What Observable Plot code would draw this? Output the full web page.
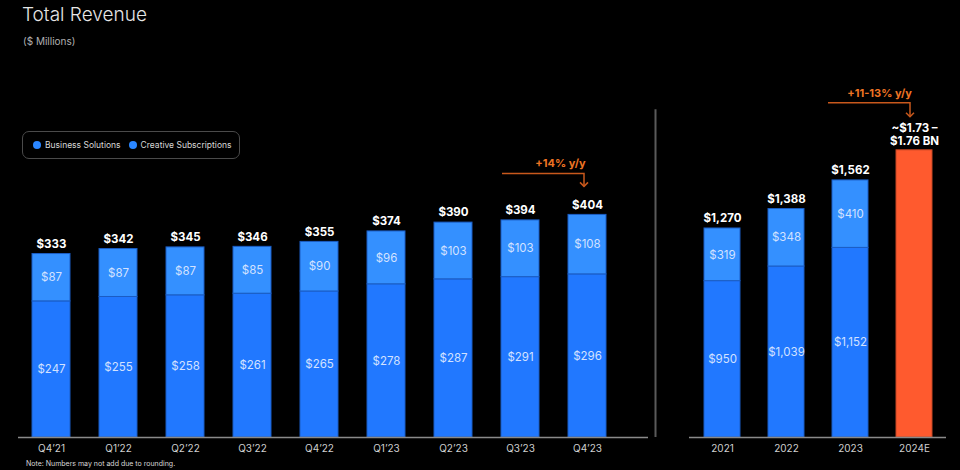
<!DOCTYPE html>
<html><head><meta charset="utf-8">
<script src="https://cdn.jsdelivr.net/npm/d3@7"></script>
<script src="https://cdn.jsdelivr.net/npm/@observablehq/plot@0.6"></script>
<style>
html,body{margin:0;padding:0;background:#000;}
#wrap{position:relative;width:960px;height:470px;background:#000;overflow:hidden;font-family:Inter,"Open Sans",sans-serif;}
#wrap svg{position:absolute;left:0;top:0;}
.t{position:absolute;white-space:nowrap;}
#legend{position:absolute;left:22px;top:131px;width:218px;height:28px;box-sizing:border-box;border:1px solid #4a4a4a;border-radius:7px;display:flex;align-items:center;padding-left:10px;font-size:8.5px;color:#d8d8d8;white-space:nowrap;}
#legend .it{display:flex;align-items:center;margin-right:8px;flex-shrink:0;}
#legend .dot{width:8px;height:8px;border-radius:50%;margin-right:4px;flex-shrink:0;}
</style></head><body>
<div id="wrap">
  <div class="t" style="left:22px;top:3px;font-size:19px;font-weight:300;color:#e6e6e6;">Total Revenue</div>
  <div class="t" style="left:23px;top:35px;font-size:10px;color:#b0b0b0;">($ Millions)</div>
  <div id="legend"></div>
  <div class="t" style="left:26px;top:459px;font-size:7px;color:#d8d8d8;">Note: Numbers may not add due to rounding.</div>
</div>
<script>
// ---- data ----
const quarters = ["Q4’21","Q1’22","Q2’22","Q3’22","Q4’22","Q1’23","Q2’23","Q3’23","Q4’23"];
const qBusiness = [247,255,258,261,265,278,287,291,296];
const qCreative = [87,87,87,85,90,96,103,103,108];
const qTotal = [333,342,345,346,355,374,390,394,404];
const years = ["2021","2022","2023","2024E"];
const yBusiness = [950,1039,1152];
const yCreative = [319,348,410];
const yTotal = [1270,1388,1562];
const guidanceLow = 1730, guidanceHigh = 1760;
const seriesNames = ["Business Solutions","Creative Subscriptions"];
const growthLabels = ["+14% y/y","+11-13% y/y"];

// ---- styles ----
const C_B = "#2178ff", C_C = "#3490ff", EDGE = "#1b5dc4", C_G = "#ff5a2e", C_G_EDGE = "#c44624";
const C_ANN = "#c8581c", C_ANN_T = "#ee7424";
const fmt = v => "$" + d3.format(",")(v);
const baseStyle = {background:"transparent", color:"#cfcfcf", fontSize:"10px", fontFamily:"Inter, sans-serif"};

// legend
const lg = document.getElementById("legend");
seriesNames.forEach(n => {
  const it = document.createElement("div"); it.className = "it";
  const d = document.createElement("div"); d.className = "dot"; d.style.background = "#2a86ff";
  const s = document.createElement("span"); s.textContent = n;
  it.append(d, s); lg.append(it);
});

const qRows = quarters.map((q,i)=>({q, b:qBusiness[i], c:qCreative[i], t:qTotal[i]}));
const last = qRows[qRows.length-1];

const left = Plot.plot({
  width:960, height:470, marginLeft:18, marginRight:312, marginTop:0, marginBottom:33,
  style: baseStyle,
  x:{domain:quarters, range:[17.5,620.5], paddingInner:0.433, paddingOuter:0.2165, tickSize:0, tickPadding:7, label:null},
  y:{domain:[0,700], range:[437,51.3], axis:null},
  marks:[
    Plot.barY(qRows,{x:"q", y1:0, y2:"b", fill:C_B, stroke:EDGE, strokeWidth:1}),
    Plot.barY(qRows,{x:"q", y1:"b", y2:"t", fill:C_C, stroke:EDGE, strokeWidth:1}),
    Plot.text(qRows,{x:"q", y:d=>d.b/2, text:d=>fmt(d.b), fill:"#d3e2ff", fontSize:11.5}),
    Plot.text(qRows,{x:"q", y:d=>(d.b+d.t)/2, text:d=>fmt(d.c), fill:"#d3e2ff", fontSize:11.5}),
    Plot.text(qRows,{x:"q", y:"t", text:d=>fmt(d.t), dy:-10, fill:"#ffffff", fontWeight:"bold", fontSize:11.5}),
    Plot.text([last],{x:"q", y:"t", text:[growthLabels[0]], dx:-27, dy:-51, fill:C_ANN_T, fontWeight:"bold", fontSize:11}),
    Plot.ruleX([last.q],{dx:68, y1:0, y2:595, stroke:"#5a5a5a", strokeWidth:2}),
    Plot.ruleY([0],{stroke:"#8a8a8a", strokeWidth:1.5})
  ]
});

const yRows = years.slice(0,3).map((y,i)=>({y, b:yBusiness[i], c:yCreative[i], t:yTotal[i]}));
const gRow = {y: years[3], lo: guidanceLow, hi: guidanceHigh, mid:(guidanceLow+guidanceHigh)/2};
const gLabel = `~$${(guidanceLow/1000).toFixed(2)} –\n$${(guidanceHigh/1000).toFixed(2)} BN`;

const right = Plot.plot({
  width:960, height:470, marginLeft:689, marginRight:14, marginTop:0, marginBottom:33,
  style: baseStyle,
  x:{domain:years, range:[688.7,947.3], paddingInner:0.443, paddingOuter:0.2215, tickSize:0, tickPadding:7, label:null},
  y:{domain:[0,2400], range:[437,42], axis:null},
  marks:[
    Plot.barY(yRows,{x:"y", y1:0, y2:"b", fill:C_B, stroke:EDGE, strokeWidth:1}),
    Plot.barY(yRows,{x:"y", y1:"b", y2:"t", fill:C_C, stroke:EDGE, strokeWidth:1}),
    Plot.barY([gRow],{x:"y", y1:0, y2:"mid", fill:C_G, stroke:C_G_EDGE, strokeWidth:1}),
    Plot.text(yRows,{x:"y", y:d=>d.b/2, text:d=>fmt(d.b), fill:"#d3e2ff", fontSize:11.5}),
    Plot.text(yRows,{x:"y", y:d=>(d.b+d.t)/2, text:d=>fmt(d.c), fill:"#d3e2ff", fontSize:11.5}),
    Plot.text(yRows,{x:"y", y:"t", text:d=>fmt(d.t), dy:-10, fill:"#ffffff", fontWeight:"bold", fontSize:11.5}),
    Plot.text([gRow],{x:"y", y:"mid", text:[gLabel], lineAnchor:"bottom", lineHeight:1.15, dy:-5, fill:"#ffffff", fontWeight:"bold", fontSize:11.5}),
    Plot.text([gRow],{x:"y", y:"mid", text:[growthLabels[1]], dx:-35, dy:-57, fill:C_ANN_T, fontWeight:"bold", fontSize:11}),
    Plot.ruleY([0],{stroke:"#8a8a8a", strokeWidth:1.5})
  ]
});

const wrap = document.getElementById("wrap");
wrap.append(left, right);

// elbow arrows drawn with the plots' own scales
function elbow(svg, x0, x1, yh, ye) {
  const g = d3.select(svg).append("g").attr("fill","none").attr("stroke",C_ANN).attr("stroke-width",1.5);
  g.append("path").attr("d",`M${x0},${yh}H${x1}V${ye}`);
  g.append("path").attr("d",`M${x1-4},${ye-4}L${x1},${ye}L${x1+4},${ye-4}`);
}
{
  const xs = left.scale("x"), ys = left.scale("y");
  const top = ys.apply(last.t);
  elbow(left, xs.apply(quarters[7]) + 1, xs.apply(last.q) + xs.bandwidth/2 - 3, top - 41, top - 28);
}
{
  const xs = right.scale("x"), ys = right.scale("y");
  const top = ys.apply(gRow.mid);
  elbow(right, xs.apply(years[2]) - 4, xs.apply(gRow.y) + xs.bandwidth/2 - 4, top - 47, top - 33);
}
</script>
</body></html>
